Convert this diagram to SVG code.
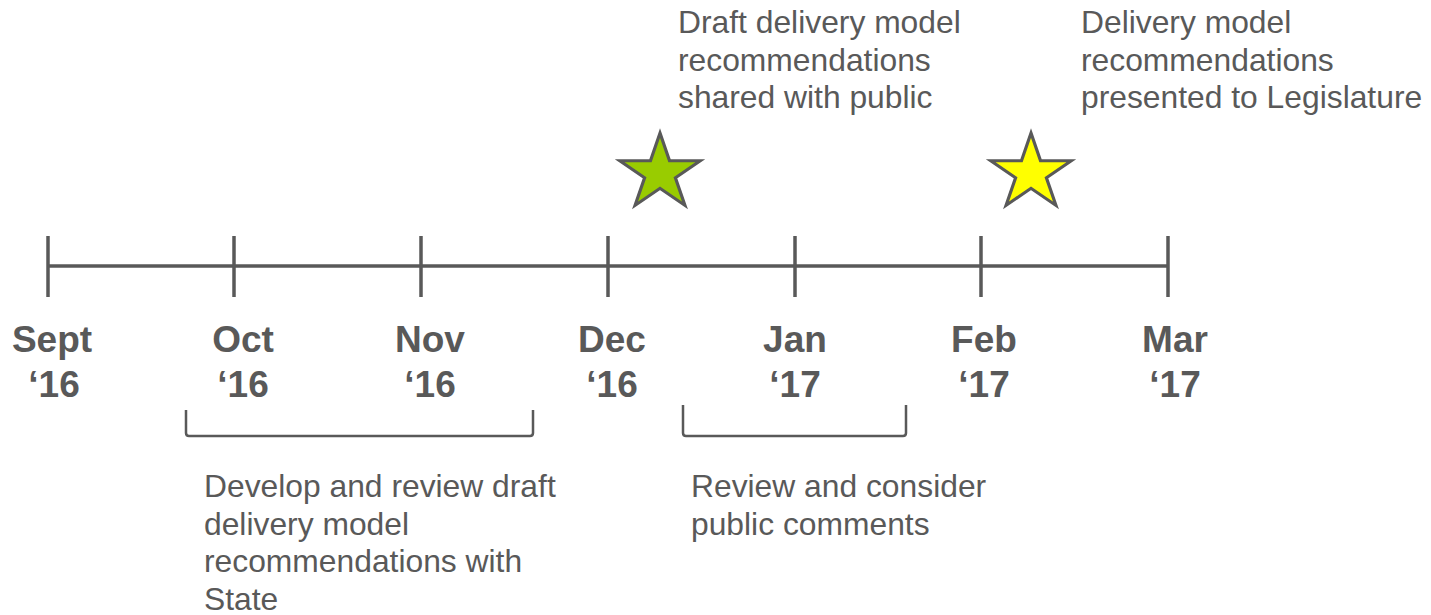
<svg xmlns="http://www.w3.org/2000/svg" width="1431" height="615" viewBox="0 0 1431 615">
<style>
.ln{stroke:#595959;stroke-width:3.5;fill:none}
.br{stroke:#595959;stroke-width:2.5;fill:none;stroke-linejoin:round}
.m{font-family:"Liberation Sans",Arial,sans-serif;font-weight:bold;font-size:37px;fill:#595959;text-anchor:middle}
.t{font-family:"Liberation Sans",Arial,sans-serif;font-size:31.8px;fill:#595959}
.st{stroke:#595959;stroke-width:3;stroke-linejoin:miter}
</style>
<defs>
<path id="star" d="M0,-40 L8.98,-12.36 L38.04,-12.36 L14.52,4.72 L23.52,32.36 L0,15.28 L-23.52,32.36 L-14.52,4.72 L-38.04,-12.36 L-8.98,-12.36 Z"/>
</defs>
<g id="connectors">
<line class="ln" x1="48" y1="266" x2="1168" y2="266"/>
<line class="ln" x1="48" y1="236" x2="48" y2="297"/>
<line class="ln" x1="234" y1="236" x2="234" y2="297"/>
<line class="ln" x1="421" y1="236" x2="421" y2="297"/>
<line class="ln" x1="608" y1="236" x2="608" y2="297"/>
<line class="ln" x1="795" y1="236" x2="795" y2="297"/>
<line class="ln" x1="981" y1="236" x2="981" y2="297"/>
<line class="ln" x1="1168" y1="236" x2="1168" y2="297"/>
</g>
<g id="sept"><text class="m" x="52" y="352">Sept<tspan x="54" y="397">‘16</tspan></text></g>
<g id="oct"><text class="m" x="243" y="352">Oct<tspan x="243" y="397">‘16</tspan></text></g>
<g id="nov"><text class="m" x="430" y="352">Nov<tspan x="430" y="397">‘16</tspan></text></g>
<g id="dec"><text class="m" x="612" y="352">Dec<tspan x="612" y="397">‘16</tspan></text></g>
<g id="jan"><text class="m" x="795" y="352">Jan<tspan x="795" y="397">‘17</tspan></text></g>
<g id="feb"><text class="m" x="984" y="352">Feb<tspan x="984" y="397">‘17</tspan></text></g>
<g id="mar"><text class="m" x="1175" y="352">Mar<tspan x="1175" y="397">‘17</tspan></text></g>
<g id="star-green"><use href="#star" class="st" fill="#99CC00" transform="translate(660,173) scale(1.06,1)"/></g>
<g id="star-yellow"><use href="#star" class="st" fill="#FFFF00" transform="translate(1031,173) scale(1.06,1)"/></g>
<g id="note-draft"><text class="t" x="678" y="33">Draft delivery model<tspan x="678" y="70.5">recommendations</tspan><tspan x="678" y="108">shared with public</tspan></text></g>
<g id="note-leg"><text class="t" x="1081" y="33">Delivery model<tspan x="1081" y="70.5">recommendations</tspan><tspan x="1081" y="108">presented to Legislature</tspan></text></g>
<g id="bracket-develop">
<path class="br" d="M186,410 L186,433 Q186,436 189,436 L530,436 Q533,436 533,433 L533,410"/>
<text class="t" x="204" y="497">Develop and review draft<tspan x="204" y="534.5">delivery model</tspan><tspan x="204" y="572">recommendations with</tspan><tspan x="204" y="609.5">State</tspan></text>
</g>
<g id="bracket-review">
<path class="br" d="M683,405 L683,433 Q683,436 686,436 L903,436 Q906,436 906,433 L906,405"/>
<text class="t" x="691" y="497">Review and consider<tspan x="691" y="534.5">public comments</tspan></text>
</g>
</svg>
